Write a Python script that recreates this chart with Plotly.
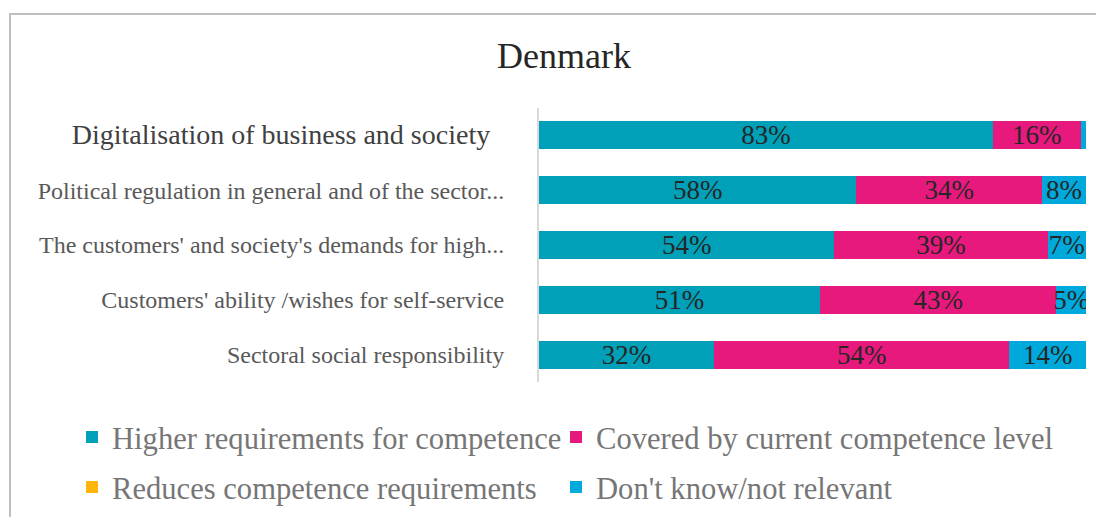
import plotly.graph_objects as go

W, H = 1104, 517
OFF = 8  # page body margin

categories = [
    "Digitalisation of business and society",
    "Political regulation in general and of the sector...",
    "The customers' and society's demands for high...",
    "Customers' ability /wishes for self-service",
    "Sectoral social responsibility",
]
higher = [83, 58, 54, 51.4, 32]
covered = [16, 34, 39, 43.2, 54]
reduces = [0, 0, 0, 0, 0]
dont_know = [1, 8, 7, 5.4, 14]

series_names = [
    "Higher requirements for competence",
    "Covered by current competence level",
    "Reduces competence requirements",
    "Don't know/not relevant",
]
colors = ["#00A0B8", "#E8197D", "#FFB60A", "#00A9DB"]
label_min = 2  # values below this are not labelled

FONT = "Liberation Serif"

def px_x(p):
    return (p - OFF) / W

def px_y(p):
    return 1 - (p - OFF) / H

fig = go.Figure()
all_values = [higher, covered, reduces, dont_know]
legend_ids = ["legend", "legend2", "legend3", "legend4"]
for name, vals, col, lg in zip(series_names, all_values, colors, legend_ids):
    fig.add_trace(go.Bar(
        y=categories,
        x=vals,
        name=name,
        orientation="h",
        marker=dict(color=col, line=dict(width=0)),
        text=[f"{round(v)}%" if v >= label_min else "" for v in vals],
        texttemplate="%{text}",
        textposition="inside",
        insidetextanchor="middle",
        textangle=0,
        textfont=dict(family=FONT, size=27, color="#262626"),
        legend=lg,
        showlegend=True,
        hoverinfo="skip",
    ))

ticktext = [
    f'<span style="font-size:28px;fill:#404040">{categories[0]}\u00a0\u00a0</span>'
] + categories[1:]

legend_pos = {
    "legend": (72, 437),
    "legend2": (556, 437),
    "legend3": (72, 487),
    "legend4": (556, 487),
}
legend_layout = {
    key: dict(
        orientation="h",
        x=px_x(lx), xanchor="left",
        y=px_y(ly), yanchor="middle",
        font=dict(family=FONT, size=30.6, color="#767676"),
        bgcolor="rgba(0,0,0,0)",
    )
    for key, (lx, ly) in legend_pos.items()
}

fig.update_layout(
    width=W,
    height=H,
    showlegend=True,
    barmode="stack",
    bargap=0.49,
    margin=dict(l=0, r=0, t=0, b=0),
    paper_bgcolor="white",
    plot_bgcolor="white",
    font=dict(family=FONT, color="#595959"),
    uniformtext=dict(minsize=27, mode="show"),
    title=dict(
        text="Denmark",
        x=px_x(564), xanchor="center",
        y=px_y(55), yanchor="middle",
        font=dict(family=FONT, size=36, color="#262626"),
    ),
    xaxis=dict(
        domain=[px_x(539), px_x(1086)],
        range=[0, 100],
        visible=False,
    ),
    yaxis=dict(
        domain=[px_y(382), px_y(108)],
        autorange="reversed",
        tickmode="array",
        tickvals=categories,
        ticktext=ticktext,
        tickfont=dict(family=FONT, size=24, color="#595959"),
        showline=True,
        linecolor="#D9D9D9",
        linewidth=2,
        ticks="",
        showgrid=False,
        ticklabelstandoff=28,
    ),
    shapes=[
        dict(
            type="rect", xref="paper", yref="paper",
            x0=px_x(10), x1=px_x(1130), y0=px_y(14), y1=px_y(560),
            line=dict(color="#BFBFBF", width=2),
            fillcolor="rgba(0,0,0,0)",
            layer="below",
        )
    ],
    **legend_layout,
)

fig.write_html("out.html")
